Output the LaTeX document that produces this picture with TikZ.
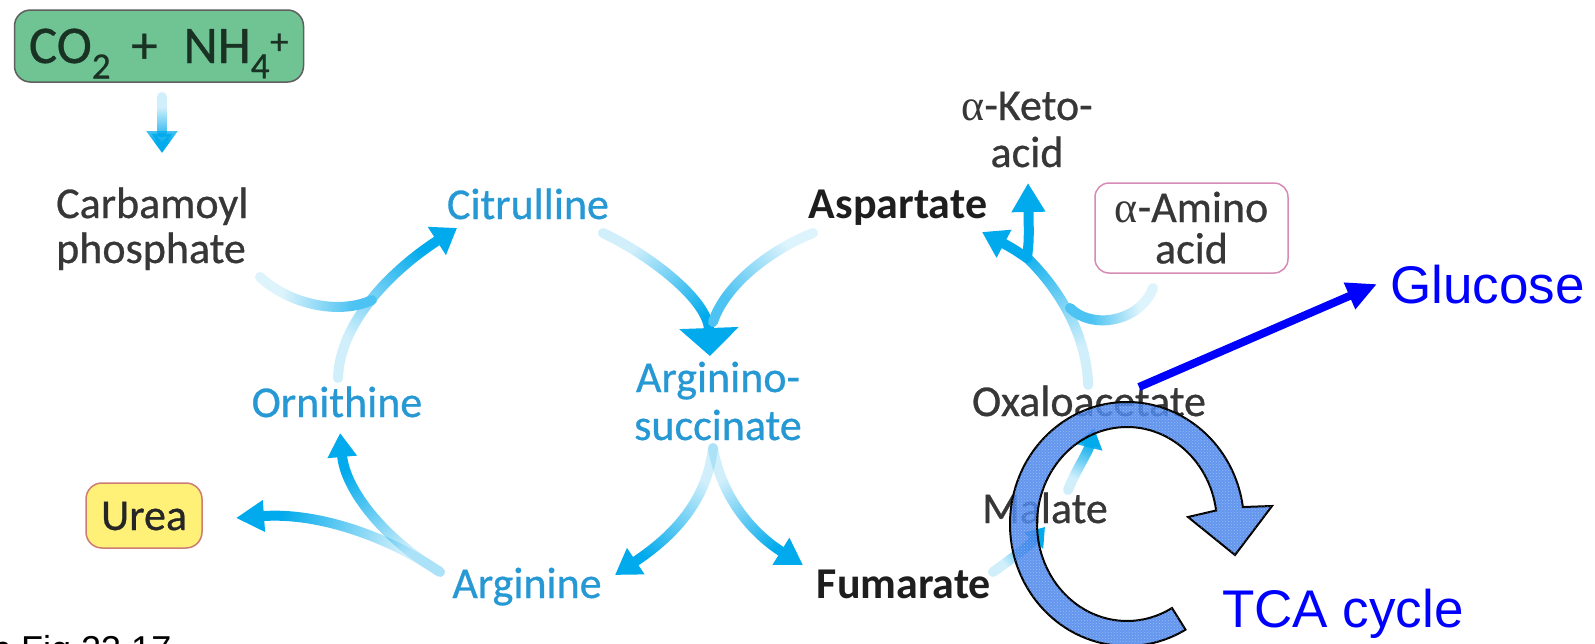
\documentclass[tikz,border=0pt]{standalone}
\usepackage{fontspec}
\setmainfont{Carlito}[UprightFeatures={FakeBold=0.6}]
\newfontfamily\arialf{Liberation Sans}
\newfontfamily\greekf{Liberation Serif}
\usetikzlibrary{arrows.meta,fadings,calc,patterns}
\tikzfading[name=tailfade, left color=transparent!82, right color=transparent!0]
\definecolor{arrowcyan}{RGB}{0,170,236}
\definecolor{cyantext}{RGB}{38,152,212}
\definecolor{darktext}{RGB}{55,55,55}
\definecolor{boldtext}{RGB}{30,30,30}
\definecolor{co2green}{RGB}{112,196,148}
\definecolor{co2border}{RGB}{95,95,95}
\definecolor{co2text}{RGB}{25,50,35}
\definecolor{ureayellow}{RGB}{255,240,120}
\definecolor{ureaborder}{RGB}{205,125,115}
\definecolor{aminoborder}{RGB}{214,140,180}
\definecolor{ringfill}{RGB}{72,132,236}
\definecolor{tcablue}{RGB}{0,0,255}
\newcommand\alf{{\greekf α}}
\newcommand\stackc[2]{\begin{tabular}[t]{@{}c@{}}#1\\#2\end{tabular}}
\newcommand\stackl[2]{\begin{tabular}[t]{@{}l@{}}#1\\#2\end{tabular}}
\tikzset{
  lbl/.style={inner sep=0pt, anchor=base, font=\fontsize{44}{46}\selectfont},
  cyanlbl/.style={lbl, text=cyantext},
  darklbl/.style={lbl, text=darktext},
  boldlbl/.style={lbl, text=boldtext, font=\fontsize{44}{46}\selectfont\bfseries},
  bluelbl/.style={inner sep=0pt, anchor=base west, text=tcablue, font=\arialf\fontsize{53}{60}\selectfont},
  figlbl/.style={inner sep=0pt, anchor=base west, text=black, font=\arialf\fontsize{36}{40}\selectfont},
  co2box/.style={anchor=base, rounded corners=16pt, fill=co2green, draw=co2border, line width=1.5pt,
    minimum width=289pt, inner xsep=0pt, inner ysep=0pt, text height=53pt, text depth=19pt,
    font=\fontsize{53}{60}\selectfont, text=co2text},
  ureabox/.style={anchor=base, rounded corners=16pt, fill=ureayellow, draw=ureaborder, line width=1.5pt,
    minimum width=116pt, inner xsep=0pt, inner ysep=0pt, text height=47pt, text depth=18pt,
    font=\fontsize{44}{46}\selectfont, text=black!85},
  aminobox/.style={anchor=base, rounded corners=14pt, fill=white, draw=aminoborder, line width=1.5pt,
    minimum width=193pt, inner xsep=0pt, inner ysep=0pt, text height=39pt, text depth=51pt,
    font=\fontsize{44}{36}\selectfont, text=darktext},
  flow/.style={draw=arrowcyan, line width=10pt, line cap=round},
  branch/.style={flow, draw=arrowcyan!70},
  faded/.style n args={4}{path fading=tailfade, fit fading=false,
    fading transform={shift={(#1,#2)}, rotate=#3, xscale=#4, yscale=4}},
  arrhead/.style 2 args={-{Triangle[width=#1pt,length=#2pt]}},
  glu/.style={draw=tcablue, line width=8pt, -{Triangle[width=27pt,length=30pt]}},
  ring/.style={fill=ringfill, fill opacity=0.85, draw=black, line width=2pt, line join=miter,
    postaction={pattern=crosshatch dots, pattern color=white, fill opacity=0.35}},
}
\begin{document}
\begin{tikzpicture}[x=1pt,y=-1pt]
\useasboundingbox (0,0) rectangle (1595,643);
\fill[white] (0,0) rectangle (1595,643);
\clip (0,0) rectangle (1595,643);

% ---------- boxed labels ----------
\node[co2box] (co2) at (159,63) {CO\textsubscript{2}\hspace{20pt}+\hspace{26pt}NH\textsubscript{4}\textsuperscript{+}};
\node[ureabox] (urea) at (144,530) {Urea};
\node[aminobox] (amino) at (1191.5,222) {\stackc{\alf-Amino}{acid}};

% ---------- plain labels ----------
\node[darklbl, anchor=base west, font=\fontsize{44}{45}\selectfont] (carb) at (56,218) {\stackl{Carbamoyl}{phosphate}};
\node[cyanlbl] (cit) at (528,219) {Citrulline};
\node[boldlbl] (asp) at (898,218) {Aspartate};
\node[darklbl, font=\fontsize{44}{47}\selectfont] (keto) at (1027,120) {\stackc{\alf-Keto-}{acid}};
\node[cyanlbl] (orn) at (337,417) {Ornithine};
\node[cyanlbl, font=\fontsize{44}{48}\selectfont] (args) at (718,392) {\stackc{Arginino-}{succinate}};
\node[darklbl] (oxa) at (1089,416) {Oxaloacetate};
\node[darklbl] (mal) at (1045,523) {Malate};
\node[cyanlbl] (arg) at (527,598) {Arginine};
\node[boldlbl] (fum) at (904,598) {Fumarate};
\node[bluelbl] (glc) at (1390,303) {Glucose};
\node[bluelbl] (tca) at (1222,627) {TCA cycle};
\node[figlbl] (fig) at (-9,661) {h Fig 23.17};

% ---------- arrow end points ----------
\coordinate (co2a) at (162,97);   \coordinate (co2b) at (162,153);
\coordinate (o1) at (338,378);    \coordinate (c1) at (457,228);
\coordinate (cp1) at (260,277);   \coordinate (cpj) at (372,300);
\coordinate (c2) at (603,233);    \coordinate (as1) at (710,356);
\coordinate (asp1) at (813,233);  \coordinate (aspj) at (713,322);
\coordinate (as2) at (713,448);   \coordinate (ar1) at (615,575);
\coordinate (fu1) at (803,565);
\coordinate (ar2) at (440,572);   \coordinate (ur1) at (236,518);
\coordinate (o2) at (340,433);
\coordinate (fu2) at (993,572);   \coordinate (ma1) at (1045,527);
\coordinate (ma2) at (1068,490);  \coordinate (ox1) at (1094,428);
\coordinate (ox2) at (1088,385);  \coordinate (fork) at (1027,258);
\coordinate (ke1) at (1028,183);  \coordinate (asp2) at (982,232);
\coordinate (am1) at (1153,288);  \coordinate (amj) at (1070,308);
\coordinate (gl0) at (1139,387);
\coordinate (tc) at (1127,524);

% ---------- cyan pathway arrows ----------
\draw[flow, faded={162}{125}{-90}{0.72}, arrhead={30}{22}] (co2a) -- (co2b);
\draw[flow, faded={397}{303}{51.6}{2.3}, arrhead={32}{24}] (o1) .. controls (340,320) and (395,268) .. (c1);
\draw[branch, faded={318}{285}{-4}{1.45}] (cp1) .. controls (290,305) and (340,315) .. (cpj);
\draw[flow, faded={656}{294}{-49}{1.96}, arrhead={58}{28}] (c2) .. controls (650,255) and (708,300) .. (as1);
\draw[branch, faded={763}{278}{-137}{1.62}] (asp1) .. controls (770,250) and (725,285) .. (aspj);
\draw[flow, faded={664}{511}{-127.7}{1.92}, arrhead={30}{25}] (as2) .. controls (707,500) and (675,535) .. (ar1);
\draw[flow, faded={759}{506}{-53}{1.76}, arrhead={30}{26}] (as2) .. controls (722,500) and (755,535) .. (fu1);
\draw[flow, faded={338}{545}{165.2}{2.53}, arrhead={30}{28}] (ar2) .. controls (390,538) and (320,512) .. (ur1);
\draw[flow, faded={390}{502}{125.7}{2.05}, arrhead={28}{24}] (ar2) .. controls (385,540) and (345,490) .. (o2);
\draw[flow, faded={1019}{549}{41}{0.83}, arrhead={24}{18}] (fu2) .. controls (1010,560) and (1030,545) .. (ma1);
\draw[flow, faded={1081}{459}{67}{0.81}, arrhead={26}{20}] (ma2) .. controls (1075,472) and (1088,452) .. (ox1);
% oxaloacetate trunk and its two heads
\draw[flow, faded={1045}{300}{115}{2.3}] (ox2) .. controls (1086,330) and (1055,285) .. (fork);
\draw[flow, arrhead={32}{29}] (fork) .. controls (1029,240) .. (ke1);
\draw[flow, arrhead={30}{25}] (fork) .. controls (1012,248) .. (asp2);
\draw[branch, faded={1112}{296}{-170}{0.99}] (am1) .. controls (1140,322) and (1092,330) .. (amj);

% ---------- glucose arrow ----------
\draw[glu] (gl0) -- ([xshift=-13pt]glc.west);

% ---------- TCA cycle circular arrow ----------
\path[ring] ($(tc)+(60:117 and 122)$) arc[start angle=60, end angle=352, x radius=117, y radius=122]
  -- (1272,506) -- (1235,555) -- (1188,517)
  -- ($(tc)+(352:90 and 97)$) arc[start angle=352, end angle=60, x radius=90, y radius=97] -- cycle;
\end{tikzpicture}
\end{document}
